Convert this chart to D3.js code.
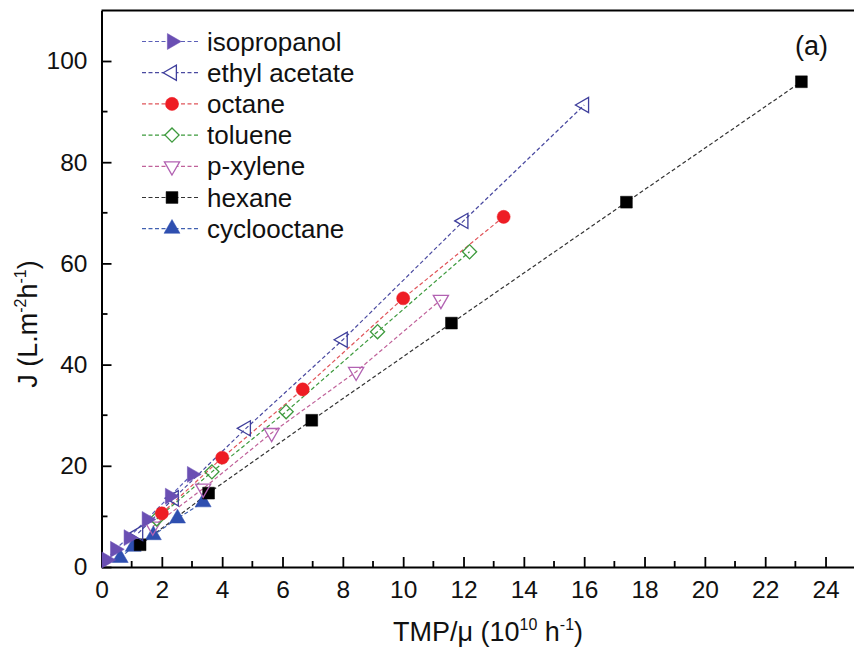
<!DOCTYPE html>
<html>
<head>
<meta charset="utf-8">
<script src="https://cdn.jsdelivr.net/npm/d3@7"></script>
<style>
  html, body { margin: 0; padding: 0; background: #fff; }
  svg { display: block; }
  text { font-family: "Liberation Sans", Arial, sans-serif; fill: #111; }
</style>
</head>
<body>
<svg id="chart" width="854" height="649"></svg>
<script>
// Permeate flux J versus TMP/viscosity for each solvent
const seriesNames = ["isopropanol", "ethyl acetate", "octane", "toluene", "p-xylene", "hexane", "cyclooctane"];

const isopropanolX = [0.17, 0.45, 0.90, 1.50, 2.27, 3.00];
const isopropanolY = [1.4, 3.5, 5.8, 9.4, 14.0, 18.3];

const ethylAcetateX = [1.22, 2.40, 4.79, 8.00, 12.00, 16.00];
const ethylAcetateY = [6.7, 13.6, 27.4, 44.9, 68.4, 91.3];

const octaneX = [2.00, 4.00, 6.67, 10.00, 13.33];
const octaneY = [10.6, 21.6, 35.1, 53.1, 69.2];

const tolueneX = [1.83, 3.66, 6.12, 9.15, 12.20];
const tolueneY = [9.5, 18.8, 30.7, 46.5, 62.3];

const pXyleneX = [1.70, 3.37, 5.64, 8.44, 11.25];
const pXyleneY = [8.0, 15.5, 26.5, 38.6, 52.8];

const hexaneX = [1.28, 3.55, 6.97, 11.60, 17.40, 23.20];
const hexaneY = [4.4, 14.6, 29.0, 48.2, 72.1, 95.9];

const cyclooctaneX = [0.62, 1.05, 1.72, 2.52, 3.37];
const cyclooctaneY = [1.8, 4.0, 6.3, 9.6, 12.8];

const xTicks = [0, 2, 4, 6, 8, 10, 12, 14, 16, 18, 20, 22, 24];
const yTicks = [0, 20, 40, 60, 80, 100];

const styles = [
  { marker: "tri-right", fill: "#6a4fb3", stroke: "#6a4fb3", line: "#5b5fb8" },
  { marker: "tri-left",  fill: "none",    stroke: "#3f3f9c", line: "#4a4aa0" },
  { marker: "circle",    fill: "#ee1d24", stroke: "#ee1d24", line: "#e0555a" },
  { marker: "diamond",   fill: "none",    stroke: "#3d9a3d", line: "#3d9a3d" },
  { marker: "tri-down",  fill: "none",    stroke: "#b262b2", line: "#c0629a" },
  { marker: "square",    fill: "#000000", stroke: "#000000", line: "#333333" },
  { marker: "tri-up",    fill: "#2f4fb0", stroke: "#2f4fb0", line: "#4060b0" }
];

const xs = [isopropanolX, ethylAcetateX, octaneX, tolueneX, pXyleneX, hexaneX, cyclooctaneX];
const ys = [isopropanolY, ethylAcetateY, octaneY, tolueneY, pXyleneY, hexaneY, cyclooctaneY];
const series = seriesNames.map((name, i) => ({
  name, style: styles[i],
  points: xs[i].map((x, j) => ({ x, y: ys[i][j] }))
}));

const svg = d3.select("#chart");
const x = d3.scaleLinear().domain([0, 25]).range([101.5, 855.7]);
const y = d3.scaleLinear().domain([0, 110]).range([567, 10.4]);

function markerPath(kind) {
  switch (kind) {
    case "circle": return { d: d3.symbol(d3.symbolCircle, 135)(), rot: 0 };
    case "square": return { d: d3.symbol(d3.symbolSquare, 140)(), rot: 0 };
    case "diamond": return { d: d3.symbol(d3.symbolSquare, 100)(), rot: 45 };
    case "tri-up": return { d: d3.symbol(d3.symbolTriangle, 110)(), rot: 0 };
    case "tri-right": return { d: d3.symbol(d3.symbolTriangle, 110)(), rot: 90 };
    case "tri-left": return { d: d3.symbol(d3.symbolTriangle, 100)(), rot: -90 };
    case "tri-down": return { d: d3.symbol(d3.symbolTriangle, 100)(), rot: 180 };
  }
}

// Axes: ticks point inward
const xAxis = d3.axisBottom(x).tickValues(xTicks).tickSizeInner(-10).tickSizeOuter(0).tickPadding(14).tickFormat(d3.format("d"));
const yAxis = d3.axisLeft(y).tickValues(yTicks).tickSizeInner(-10).tickSizeOuter(0).tickPadding(14).tickFormat(d3.format("d"));

const gx = svg.append("g").attr("transform", `translate(0,${y(0)})`).call(xAxis);
const gy = svg.append("g").attr("transform", `translate(${x(0)},0)`).call(yAxis);
[gx, gy].forEach(g => {
  g.select(".domain").attr("stroke", "#000").attr("stroke-width", 2);
  g.selectAll(".tick line").attr("stroke", "#000").attr("stroke-width", 1.8);
  g.selectAll(".tick text").style("font-size", "24.5px").attr("fill", "#111")
    .style("font-family", "'Liberation Sans', Arial, sans-serif");
});

// Minor ticks
const xMinor = d3.range(1, 25, 2);
const yMinor = d3.range(10, 110, 20);
svg.append("g").selectAll("line").data(xMinor).join("line")
  .attr("x1", d => x(d)).attr("x2", d => x(d))
  .attr("y1", y(0)).attr("y2", y(0) - 6)
  .attr("stroke", "#000").attr("stroke-width", 1.8);
svg.append("g").selectAll("line").data(yMinor).join("line")
  .attr("x1", x(0)).attr("x2", x(0) + 6)
  .attr("y1", d => y(d)).attr("y2", d => y(d))
  .attr("stroke", "#000").attr("stroke-width", 1.8);

// Frame top and right
svg.append("line").attr("x1", x(0)).attr("x2", x(25)).attr("y1", y(110)).attr("y2", y(110))
  .attr("stroke", "#000").attr("stroke-width", 2);
svg.append("line").attr("x1", x(25)).attr("x2", x(25)).attr("y1", y(110)).attr("y2", y(0))
  .attr("stroke", "#000").attr("stroke-width", 2);

// Axis titles
const xt = svg.append("text").attr("x", 488).attr("y", 641).attr("text-anchor", "middle").style("font-size", "27px");
xt.append("tspan").text("TMP/\u03bc (10");
xt.append("tspan").attr("dy", -11).style("font-size", "16px").text("10");
xt.append("tspan").attr("dy", 11).text(" h");
xt.append("tspan").attr("dy", -11).style("font-size", "16px").text("-1");
xt.append("tspan").attr("dy", 11).text(")");

const yt = svg.append("text").attr("transform", `translate(37,324) rotate(-90)`)
  .attr("text-anchor", "middle").style("font-size", "27px");
yt.append("tspan").text("J (L.m");
yt.append("tspan").attr("dy", -11).style("font-size", "16px").text("-2");
yt.append("tspan").attr("dy", 11).text("h");
yt.append("tspan").attr("dy", -11).style("font-size", "16px").text("-1");
yt.append("tspan").attr("dy", 11).text(")");

svg.append("text").attr("x", 795).attr("y", 55).style("font-size", "27px").text("(a)");

// Dashed connecting lines
const line = d3.line().x(d => x(d.x)).y(d => y(d.y));
svg.append("g").selectAll("path").data(series).join("path")
  .attr("d", d => line(d.points))
  .attr("fill", "none")
  .attr("stroke", d => d.style.line)
  .attr("stroke-width", 1.2)
  .attr("stroke-dasharray", "4,2.5");

// Markers (isopropanol drawn last, on top)
const mg = svg.append("g");
series.slice().reverse().forEach(s => {
  const m = markerPath(s.style.marker);
  mg.append("g").selectAll("path").data(s.points).join("path")
    .attr("d", m.d)
    .attr("transform", d => `translate(${x(d.x)},${y(d.y)}) rotate(${m.rot})`)
    .attr("fill", s.style.fill === "none" ? "#fff" : s.style.fill)
    .attr("fill-opacity", s.style.fill === "none" ? 0 : 1)
    .attr("stroke", s.style.stroke)
    .attr("stroke-width", s.style.fill === "none" ? 1.3 : 0.5);
});

// Legend
const legY0 = 41.5, legStep = 31.2;
const lg = svg.append("g");
series.forEach((s, i) => {
  const cy = legY0 + i * legStep;
  lg.append("line").attr("x1", 142).attr("x2", 199).attr("y1", cy).attr("y2", cy)
    .attr("stroke", s.style.line).attr("stroke-width", 1.2).attr("stroke-dasharray", "4,2.5");
  const m = markerPath(s.style.marker);
  lg.append("path").attr("d", m.d)
    .attr("transform", `translate(172,${cy}) rotate(${m.rot})`)
    .attr("fill", s.style.fill === "none" ? "#fff" : s.style.fill)
    .attr("stroke", s.style.stroke)
    .attr("stroke-width", s.style.fill === "none" ? 1.3 : 0.5);
  lg.append("text").attr("x", 207).attr("y", cy + 9).style("font-size", "26px").text(s.name);
});
</script>
</body>
</html>
